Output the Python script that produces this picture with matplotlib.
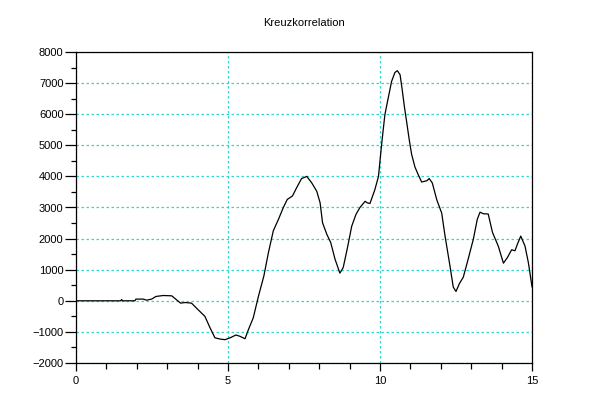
import matplotlib
matplotlib.use("Agg")
import matplotlib.pyplot as plt
from matplotlib.ticker import MultipleLocator

# lag values (x) and cross-correlation values (y)
lag = [0.0, 1.4, 1.47, 1.5, 1.53, 1.94, 1.97, 2.21, 2.32, 2.49, 2.63, 2.87,
       3.15, 3.31, 3.44, 3.59, 3.8, 4.02, 4.24, 4.41, 4.57, 4.74, 4.9, 5.07,
       5.26, 5.39, 5.56, 5.67, 5.83, 6.0, 6.18, 6.33, 6.49, 6.66, 6.82, 6.95,
       7.12, 7.26, 7.42, 7.59, 7.75, 7.92, 8.03, 8.11, 8.25, 8.38, 8.52, 8.68,
       8.79, 8.93, 9.07, 9.21, 9.34, 9.51, 9.58, 9.67, 9.83, 9.95, 10.05,
       10.16, 10.27, 10.38, 10.49, 10.57, 10.66, 10.73, 10.8, 10.88, 10.96,
       11.04, 11.15, 11.26, 11.37, 11.54, 11.62, 11.72, 11.87, 12.03, 12.14,
       12.3, 12.41, 12.5, 12.61, 12.74, 12.9, 13.07, 13.2, 13.29, 13.4, 13.56,
       13.7, 13.89, 14.06, 14.19, 14.33, 14.44, 14.52, 14.63, 14.77, 14.88,
       14.93, 15.0]
korr = [0, 0, 0, 40, 0, 0, 55, 55, 20, 55, 140, 170,
        160, 30, -75, -55, -75, -290, -500, -870, -1190, -1230, -1250, -1190,
        -1100, -1140, -1220, -930, -550, 140, 800, 1550, 2250, 2620, 3000, 3260,
        3370, 3640, 3930, 4000, 3800, 3520, 3150, 2510, 2140, 1870, 1340, 890,
        1070, 1710, 2400, 2780, 3000, 3200, 3150, 3130, 3570, 4000, 5000,
        5980, 6520, 7050, 7340, 7400, 7270, 6790, 6260, 5730, 5190,
        4710, 4300, 4050, 3820, 3860, 3930, 3790, 3240, 2820, 2080,
        1130, 440, 300, 550, 760, 1340, 1980, 2620, 2850, 2800, 2790,
        2200, 1760, 1210, 1390, 1640, 1610, 1820, 2080, 1760, 1230,
        910, 450]

grid_col = "#33d6cc"

fig = plt.figure(figsize=(6.08, 4.15), dpi=100)
ax = fig.add_axes([76 / 608, 52 / 415, 456 / 608, 311 / 415])

ax.plot(lag, korr, color="black", linewidth=0.9)

ax.set_xlim(0, 15)
ax.set_ylim(-2000, 8000)
ax.xaxis.set_major_locator(MultipleLocator(5))
ax.xaxis.set_minor_locator(MultipleLocator(1))
ax.yaxis.set_major_locator(MultipleLocator(1000))
ax.yaxis.set_minor_locator(MultipleLocator(500))

ax.grid(True, which="major", color=grid_col, linestyle=(0, (2, 2)), linewidth=0.9)
ax.set_axisbelow(True)

ax.tick_params(axis="both", which="both", direction="out", labelsize=8,
               top=False, right=False, width=0.9)
ax.tick_params(axis="y", which="major", length=8, pad=1)
ax.tick_params(axis="y", which="minor", length=3.5)
ax.tick_params(axis="x", which="major", length=6, pad=3)
ax.tick_params(axis="x", which="minor", length=4)

for sp in ax.spines.values():
    sp.set_linewidth(0.9)

for lbl in ax.get_xticklabels() + ax.get_yticklabels():
    lbl.set_family("Liberation Sans")

fig.text(0.5, 1 - 23 / 415, "Kreuzkorrelation", ha="center", va="center",
         fontsize=8, family="Liberation Sans")

plt.savefig("out.png", dpi=100)
plt.close()
